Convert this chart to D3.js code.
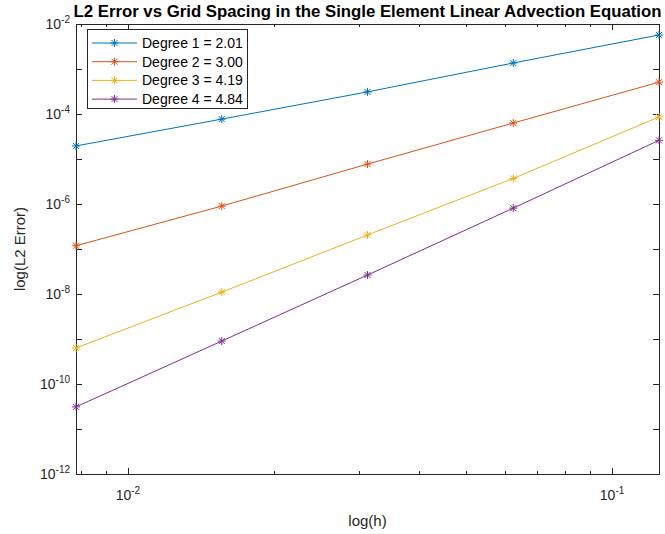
<!DOCTYPE html>
<html>
<head>
<meta charset="utf-8">
<script src="https://cdn.jsdelivr.net/npm/d3@7"></script>
<style>
  body { margin: 0; background: #fff; }
  svg { display: block; font-family: "Liberation Sans", Arial, sans-serif; }
</style>
</head>
<body>
<svg id="drawing_region"></svg>
<script>
// grid spacing h and L2 error per polynomial degree
const h = [1 / 128, 1 / 64, 1 / 32, 1 / 16, 1 / 8];
const degree1 = [1.95e-5, 7.7e-5, 3.1e-4, 1.36e-3, 5.7e-3];
const degree2 = [1.18e-7, 9.0e-7, 7.7e-6, 6.3e-5, 5.1e-4];
const degree3 = [6.3e-10, 1.1e-8, 2.05e-7, 3.7e-6, 8.6e-5];
const degree4 = [3.1e-11, 9.0e-10, 2.64e-8, 8.1e-7, 2.6e-5];
const seriesNames = ["Degree 1 = 2.01", "Degree 2 = 3.00", "Degree 3 = 4.19", "Degree 4 = 4.84"];
const yTickExponents = [-2, -3, -4, -5, -6, -7, -8, -9, -10, -11, -12];
const yLabelExponents = [-2, -4, -6, -8, -10, -12];
const xTickExponents = [-2, -1];

const width = 665, height = 534;
const margin = { top: 24, right: 5, bottom: 60, left: 76 };
const colors = ["#0072BD", "#D95319", "#EDB120", "#7E2F8E"];
const axisColor = "#262626";

const svg = d3.select("#drawing_region")
    .attr("width", width)
    .attr("height", height);

const x = d3.scaleLog()
    .domain([1 / 128, 1 / 8])
    .range([margin.left, width - margin.right - 1]);

const y = d3.scaleLog()
    .domain([1e-12, 1e-2])
    .range([height - margin.bottom, margin.top]);

const [x0, x1] = x.range();
const [y0, y1] = y.range();

// box
svg.append("rect")
    .attr("x", x0 + 0.5).attr("y", y1 + 0.5)
    .attr("width", x1 - x0).attr("height", y0 - y1)
    .attr("fill", "none")
    .attr("stroke", axisColor)
    .attr("stroke-width", 1);

// ticks (inward, mirrored on the opposite side)
const yMajor = yTickExponents.map(e => Math.pow(10, e));
const yMinor = y.ticks().filter(v => Math.abs(Math.log10(v) - Math.round(Math.log10(v))) > 1e-6);
const xMajor = xTickExponents.map(e => Math.pow(10, e));
const xMinor = x.ticks().filter(v => Math.abs(Math.log10(v) - Math.round(Math.log10(v))) > 1e-6);

const ticks = svg.append("g")
    .attr("stroke", axisColor)
    .attr("stroke-width", 1);

function yTick(v, len) {
    const py = Math.round(y(v)) + 0.5;
    ticks.append("line").attr("x1", x0).attr("x2", x0 + len).attr("y1", py).attr("y2", py);
    ticks.append("line").attr("x1", x1).attr("x2", x1 - len).attr("y1", py).attr("y2", py);
}
function xTick(v, len) {
    const px = Math.round(x(v)) + 0.5;
    ticks.append("line").attr("x1", px).attr("x2", px).attr("y1", y0).attr("y2", y0 - len);
    ticks.append("line").attr("x1", px).attr("x2", px).attr("y1", y1).attr("y2", y1 + len);
}
yMajor.forEach(v => yTick(v, 6));
yMinor.forEach(v => yTick(v, 3));
xMajor.forEach(v => xTick(v, 6));
xMinor.forEach(v => xTick(v, 3));

// tick labels with superscript exponents
yLabelExponents.forEach(e => {
    const t = svg.append("text")
        .attr("x", x0 - 6)
        .attr("y", y(Math.pow(10, e)) + 5)
        .attr("text-anchor", "end")
        .attr("fill", axisColor)
        .attr("font-size", "14px");
    t.append("tspan").text("10");
    t.append("tspan").attr("dy", -6).attr("font-size", "10px").text(e);
});

xTickExponents.forEach(e => {
    const t = svg.append("text")
        .attr("x", x(Math.pow(10, e)))
        .attr("y", y0 + 26)
        .attr("text-anchor", "middle")
        .attr("fill", axisColor)
        .attr("font-size", "14px");
    t.append("tspan").text("10");
    t.append("tspan").attr("dy", -6).attr("font-size", "10px").text(e);
});

// axis labels and title
svg.append("text")
    .attr("x", (x0 + x1) / 2)
    .attr("y", height - 8)
    .attr("text-anchor", "middle")
    .attr("fill", axisColor)
    .attr("font-size", "15px")
    .text("log(h)");

svg.append("text")
    .attr("transform", `translate(25, ${(y0 + y1) / 2}) rotate(-90)`)
    .attr("text-anchor", "middle")
    .attr("fill", axisColor)
    .attr("font-size", "15px")
    .text("log(L2 Error)");

svg.append("text")
    .attr("x", (x0 + x1) / 2)
    .attr("y", 17)
    .attr("text-anchor", "middle")
    .attr("fill", "#000")
    .attr("font-size", "16px")
    .attr("font-weight", "bold")
    .attr("textLength", 588)
    .attr("lengthAdjust", "spacingAndGlyphs")
    .text("L2 Error vs Grid Spacing in the Single Element Linear Advection Equation");

// MATLAB-style '*' marker: plus + cross
function star(cx, cy) {
    const a = 4, b = 3;
    return `M${cx - a},${cy}L${cx + a},${cy}M${cx},${cy - a}L${cx},${cy + a}` +
        `M${cx - b},${cy - b}L${cx + b},${cy + b}M${cx - b},${cy + b}L${cx + b},${cy - b}`;
}

const series = [degree1, degree2, degree3, degree4];
const line = d3.line()
    .x((d, i) => x(h[i]))
    .y(d => y(d));

series.forEach((s, k) => {
    svg.append("path")
        .attr("d", line(s))
        .attr("fill", "none")
        .attr("stroke", colors[k])
        .attr("stroke-width", 1);
    svg.append("path")
        .attr("d", s.map((d, i) => star(x(h[i]), y(d))).join(""))
        .attr("fill", "none")
        .attr("stroke", colors[k])
        .attr("stroke-width", 1);
});

// legend
const legend = svg.append("g").attr("transform", "translate(87, 29)");
legend.append("rect")
    .attr("x", 0.5).attr("y", 0.5)
    .attr("width", 160).attr("height", 79)
    .attr("fill", "#fff")
    .attr("stroke", axisColor)
    .attr("stroke-width", 1);

seriesNames.forEach((name, k) => {
    const ry = 14 + k * 18.7;
    legend.append("line")
        .attr("x1", 5).attr("x2", 50)
        .attr("y1", ry).attr("y2", ry)
        .attr("stroke", colors[k])
        .attr("stroke-width", 1);
    legend.append("path")
        .attr("d", star(27.5, ry))
        .attr("fill", "none")
        .attr("stroke", colors[k])
        .attr("stroke-width", 1);
    legend.append("text")
        .attr("x", 55)
        .attr("y", ry + 5)
        .attr("fill", "#000")
        .attr("font-size", "14px")
        .text(name);
});
</script>
</body>
</html>
